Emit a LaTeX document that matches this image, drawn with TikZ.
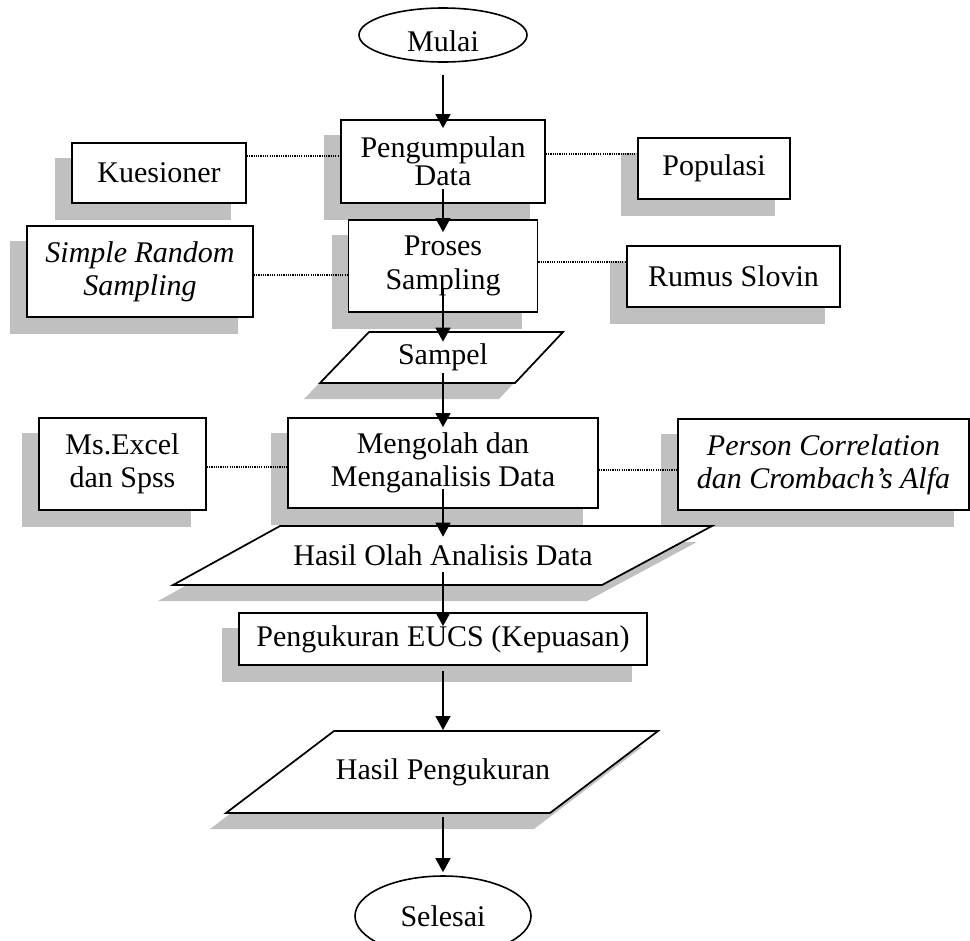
\documentclass[tikz,border=0pt]{standalone}
\usepackage{fontspec}
\setmainfont{Liberation Serif}
\usetikzlibrary{shapes.geometric,arrows.meta,backgrounds}
\definecolor{shadowgray}{RGB}{192,192,192}
\begin{document}
\begin{tikzpicture}[x=0.75pt,y=-0.75pt,
  font=\fontsize{22.5}{25}\selectfont,
  box/.style={draw,line width=1.3pt,fill=white,rectangle,inner sep=0pt,align=center},
  itbox/.style={box,font=\fontsize{22.5}{25}\selectfont\itshape},
  oval/.style={draw,line width=1.2pt,fill=white,ellipse,inner sep=0pt},
  para/.style={draw,line width=1.3pt,fill=white,line join=miter},
  ptext/.style={inner sep=0pt,align=center},
  shadowfill/.style={fill=shadowgray,draw=none},
  arr/.style={line width=1.8pt,-{Triangle[width=11pt,length=10.5pt]}},
  dotline/.style={line width=0.9pt,dash pattern=on 0.9pt off 0.8pt}
]
\useasboundingbox (0,0) rectangle (970,940);

% ellipses
\node[oval,minimum width=126pt,minimum height=40.5pt,text height=24pt,text depth=0pt] (mulai) at (443,35) {Mulai};
\node[oval,minimum width=132pt,minimum height=60pt] (selesai) at (443,916) {Selesai};

% rectangles
\node[box,minimum width=153pt,minimum height=62.25pt,font=\fontsize{22.5}{21}\selectfont] (peng) at (443,161.5) {Pengumpulan\\Data};
\node[box,minimum width=141.75pt,minimum height=69pt] (proses) at (443,266) {Proses\\Sampling};
\node[box,minimum width=130.5pt,minimum height=45pt] (kues) at (159,173) {Kuesioner};
\node[itbox,minimum width=169.5pt,minimum height=68.25pt] (srs) at (140,271.5) {Simple Random\\Sampling};
\node[box,minimum width=114pt,minimum height=45.75pt] (pop) at (714,168.5) {Populasi};
\node[box,minimum width=159.75pt,minimum height=45.75pt] (slovin) at (733.5,276.5) {Rumus Slovin};
\node[box,minimum width=125.25pt,minimum height=69pt] (excel) at (122.5,464) {Ms.Excel\\dan Spss};
\node[box,minimum width=232.5pt,minimum height=67.5pt] (olah) at (443,463) {Mengolah dan\\Menganalisis Data};
\node[itbox,minimum width=218.25pt,minimum height=68.25pt] (person) at (823.5,464.5) {Person Correlation\\dan Crombach’s Alfa};
\node[box,minimum width=306pt,minimum height=39pt] (eucs) at (443,639) {Pengukuran EUCS (Kepuasan)};

% parallelograms
\draw[para] (369,332) -- (563,332) -- (515,383) -- (320,383) -- cycle;
\node[ptext,minimum height=38.25pt] (sampel) at (443,357.5) {Sampel};
\draw[para] (280,526) -- (712,526) -- (602,585) -- (173,585) -- cycle;
\node[ptext,minimum height=44.25pt] (ho) at (443,555.5) {Hasil Olah Analisis Data};
\draw[para] (334,731) -- (658,731) -- (550,813) -- (226,813) -- cycle;
\node[ptext,minimum height=61.5pt] (hp) at (443,772) {Hasil Pengukuran};

% shadows
\begin{scope}[on background layer]
  \foreach \n in {peng,proses,kues,srs,pop,slovin,excel,olah,person,eucs}
    \path[shadowfill] ([shift={(-16,16)}]\n.south west) rectangle ([shift={(-16,16)}]\n.north east);
  \path[shadowfill] (353,348) -- (547,348) -- (499,399) -- (304,399) -- cycle;
  \path[shadowfill] (265,542) -- (697,542) -- (587,601) -- (158,601) -- cycle;
  \path[shadowfill] (318,747) -- (642,747) -- (534,829) -- (210,829) -- cycle;
\end{scope}

% dotted links
\coordinate (d1) at (0,156);
\coordinate (d2) at (0,154);
\coordinate (d3) at (0,275);
\coordinate (d4) at (0,262);
\coordinate (d5) at (0,467);
\coordinate (d6) at (0,470);
\draw[dotline] (kues.east |- d1) -- (peng.west |- d1);
\draw[dotline] (peng.east |- d2) -- (pop.west |- d2);
\draw[dotline] (srs.east |- d3) -- (proses.west |- d3);
\draw[dotline] (proses.east |- d4) -- (slovin.west |- d4);
\draw[dotline] (excel.east |- d5) -- (olah.west |- d5);
\draw[dotline] (olah.east |- d6) -- (person.west |- d6);

% arrows
\draw[arr] ([yshift=-9pt]mulai.south) -- ([yshift=-6.75pt]peng.north);
\draw[arr] ([yshift=11.25pt]peng.south) -- ([yshift=-9.75pt]proses.north);
\draw[arr] ([yshift=18.75pt]proses.south) -- ([yshift=-7.5pt]sampel.north);
\draw[arr] ([yshift=7.5pt]sampel.south) -- ([yshift=-7.5pt]olah.north);
\draw[arr] ([yshift=15pt]olah.south) -- ([yshift=-8.25pt]ho.north);
\draw[arr] ([yshift=9.75pt]ho.south) -- ([yshift=-10.5pt]eucs.north);
\draw[arr] ([yshift=-3.75pt]eucs.south) -- ([yshift=0.5pt]hp.north);
\draw[arr] ([yshift=-3pt]hp.south) -- ([yshift=2.25pt]selesai.north);
\end{tikzpicture}
\end{document}
